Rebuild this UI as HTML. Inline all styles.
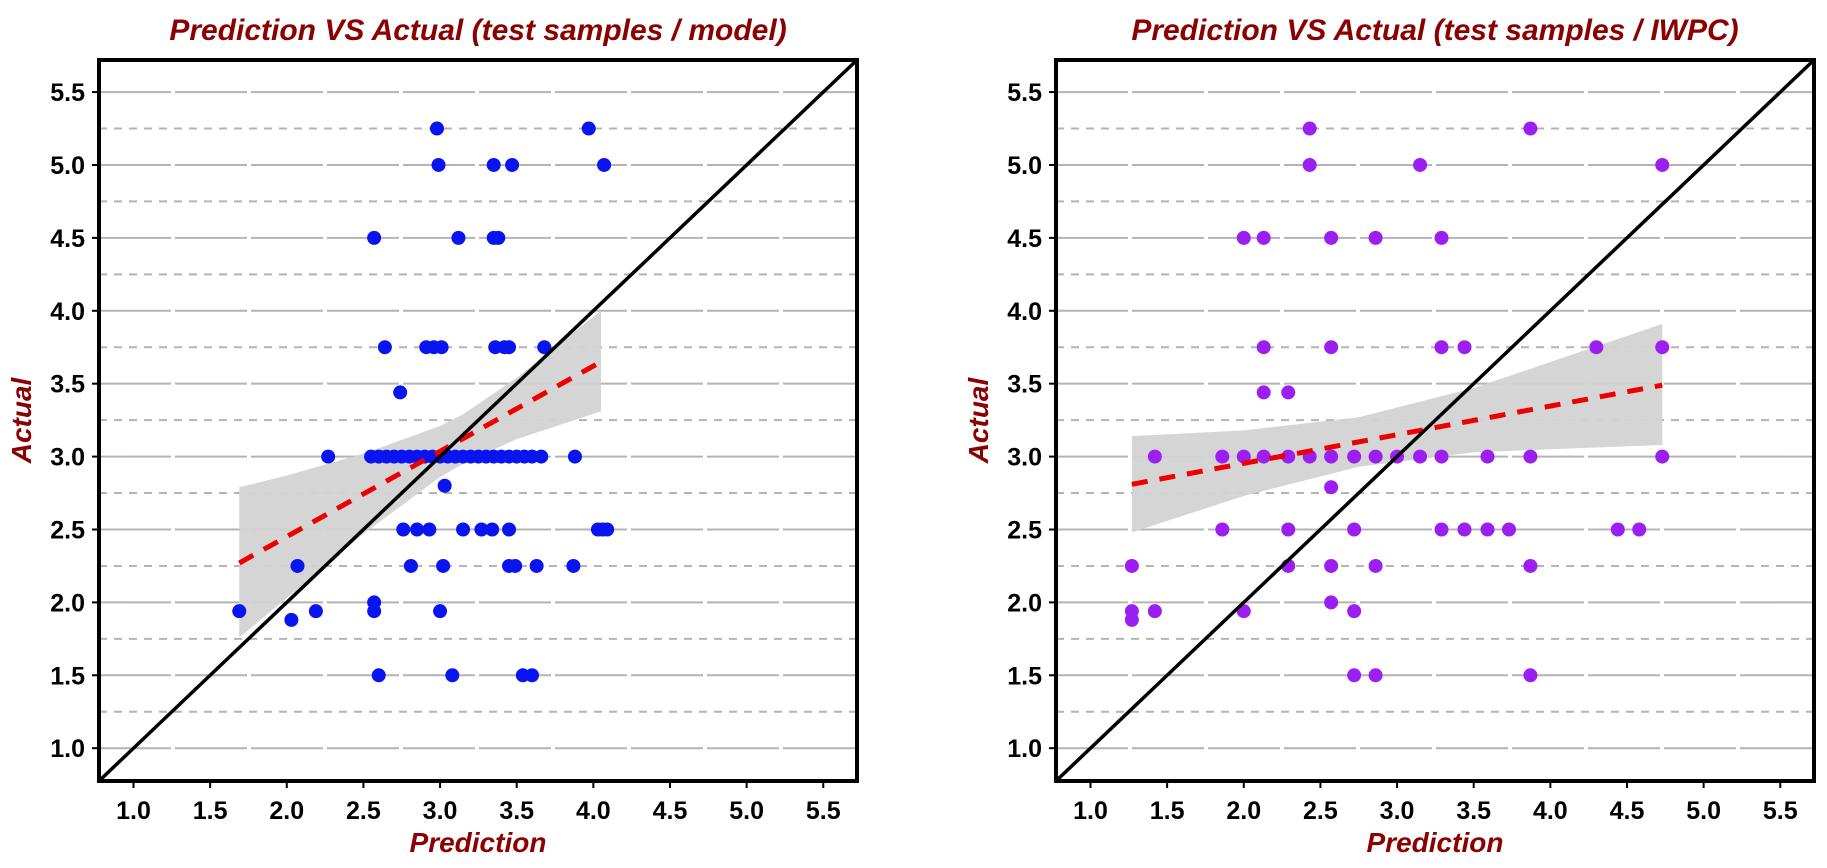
<!DOCTYPE html>
<html><head><meta charset="utf-8">
<style>
html,body{margin:0;padding:0;background:#fff;}
svg{display:block;font-family:"Liberation Sans",sans-serif;}
</style></head>
<body>
<svg id="chart" width="1827" height="868" viewBox="0 0 1827 868" xmlns="http://www.w3.org/2000/svg"></svg>
<script>
// ---- data: left panel (model) ----
const modelX = [2.98,3.97, 2.99,3.35,3.47,4.07, 2.57,3.12,3.35,3.38,
  2.64,2.91,2.96,3.01,3.36,3.42,3.45,3.68, 2.74,
  2.27,2.55,2.6,2.65,2.7,2.75,2.8,2.85,2.9,2.95,3.0,3.05,3.1,3.15,3.2,3.25,3.3,3.35,3.4,3.45,3.5,3.55,3.6,3.66,3.88,
  3.03, 2.76,2.85,2.93,3.15,3.27,3.34,3.45,4.03,4.06,4.09,
  2.07,2.81,3.02,3.45,3.49,3.63,3.87, 2.57,1.69,2.57,3.0,2.19,2.03, 2.6,3.08,3.54,3.6];
const modelY = [5.25,5.25, 5.0,5.0,5.0,5.0, 4.5,4.5,4.5,4.5,
  3.75,3.75,3.75,3.75,3.75,3.75,3.75,3.75, 3.44,
  3.0,3.0,3.0,3.0,3.0,3.0,3.0,3.0,3.0,3.0,3.0,3.0,3.0,3.0,3.0,3.0,3.0,3.0,3.0,3.0,3.0,3.0,3.0,3.0,3.0,
  2.8, 2.5,2.5,2.5,2.5,2.5,2.5,2.5,2.5,2.5,2.5,
  2.25,2.25,2.25,2.25,2.25,2.25,2.25, 2.0,1.94,1.94,1.94,1.94,1.88, 1.5,1.5,1.5,1.5];
const modelFitX = [1.69, 4.05];
const modelFitY = [2.27, 3.65];
const modelCiX = [1.69, 2.0, 2.5, 3.0, 3.15, 3.5, 4.05];
const modelCiLow = [1.76, 2.03, 2.47, 2.86, 2.95, 3.12, 3.31];
const modelCiHigh = [2.79, 2.87, 3.02, 3.21, 3.29, 3.54, 4.0];
// ---- data: right panel (IWPC) ----
const iwpcX = [2.43,3.87, 2.43,3.15,4.73, 2.0,2.13,2.57,2.86,3.29,
  2.13,2.57,3.29,3.44,4.30,4.73, 2.13,2.29,
  1.42,1.86,2.0,2.13,2.29,2.43,2.57,2.72,2.86,3.0,3.15,3.29,3.59,3.87,4.73,
  2.57, 1.86,2.29,2.72,3.29,3.44,3.59,3.73,4.44,4.58,
  1.27,2.29,2.57,2.86,3.87, 2.57, 1.27,1.42,2.0,2.72, 1.27, 2.72,2.86,3.87];
const iwpcY = [5.25,5.25, 5.0,5.0,5.0, 4.5,4.5,4.5,4.5,4.5,
  3.75,3.75,3.75,3.75,3.75,3.75, 3.44,3.44,
  3.0,3.0,3.0,3.0,3.0,3.0,3.0,3.0,3.0,3.0,3.0,3.0,3.0,3.0,3.0,
  2.79, 2.5,2.5,2.5,2.5,2.5,2.5,2.5,2.5,2.5,
  2.25,2.25,2.25,2.25,2.25, 2.0, 1.94,1.94,1.94,1.94, 1.88, 1.5,1.5,1.5];
const iwpcFitX = [1.27, 4.73];
const iwpcFitY = [2.81, 3.49];
const iwpcCiX = [1.27, 2.0, 2.75, 3.5, 4.73];
const iwpcCiLow = [2.48, 2.73, 2.93, 3.03, 3.08];
const iwpcCiHigh = [3.14, 3.18, 3.27, 3.47, 3.91];
// ---- axis ticks ----
const tickValues = [1.0,1.5,2.0,2.5,3.0,3.5,4.0,4.5,5.0,5.5];
const tickLabels = ["1.0","1.5","2.0","2.5","3.0","3.5","4.0","4.5","5.0","5.5"];
const minorValues = [1.25,1.75,2.25,2.75,3.25,3.75,4.25,4.75,5.25];
const DMIN = 0.775, DMAX = 5.72;

const NS = "http://www.w3.org/2000/svg";
const svg = document.getElementById('chart');
function mk(tag, attrs, parent){
  const e = document.createElementNS(NS, tag);
  for (const k in attrs) e.setAttribute(k, attrs[k]);
  (parent||svg).appendChild(e);
  return e;
}

function panel(cfg){
  const L = cfg.left, R = cfg.left + 758, T = 60, B = 781;
  const sx = v => L + (v - DMIN) / (DMAX - DMIN) * (R - L);
  const sy = v => B - (v - DMIN) / (DMAX - DMIN) * (B - T);
  const g = mk('g', {});
  
  

  const t = mk('text', {x:(L+R)/2, y:40, 'text-anchor':'middle', 'font-size':'30', 'font-weight':'bold', 'font-style':'italic', fill:'#8b0000'}, g);
  t.textContent = cfg.title;
  
  

  const grid = mk('g', {}, g);
  
  
  minorValues.forEach(v => {
    mk('line', {x1:L, x2:R, y1:sy(v), y2:sy(v), stroke:'#b4b4b4', 'stroke-width':2, 'stroke-dasharray':'8 7'}, grid);
  });
  tickValues.forEach(v => {
    mk('line', {x1:L, x2:R, y1:sy(v), y2:sy(v), stroke:'#b4b4b4', 'stroke-width':2, 'stroke-dasharray':'72 4'}, grid);
  });

  let pts = [];
  cfg.ciX.forEach((x,i) => pts.push(sx(x)+','+sy(cfg.ciHigh[i])));
  for (let i = cfg.ciX.length-1; i >= 0; i--) pts.push(sx(cfg.ciX[i])+','+sy(cfg.ciLow[i]));
  const band = mk('polygon', {points: pts.join(' '), fill:'#d3d3d3', opacity:'0.95'}, g);
  
  

  const pg = mk('g', {}, g);
  
  
  cfg.xs.forEach((x,i) => {
    const c = mk('circle', {cx:sx(x), cy:sy(cfg.ys[i]), r:7, fill:cfg.color}, pg);
    
    
  });

  const fit = mk('line', {x1:sx(cfg.fitX[0]), y1:sy(cfg.fitY[0]), x2:sx(cfg.fitX[1]), y2:sy(cfg.fitY[1]), stroke:'#ee0000', 'stroke-width':5, 'stroke-dasharray':'16 12'}, g);
  
  

  const id = mk('line', {x1:sx(DMIN), y1:sy(DMIN), x2:sx(DMAX), y2:sy(DMAX), stroke:'#000', 'stroke-width':3.5}, g);
  
  

  const fr = mk('rect', {x:L, y:T, width:R-L, height:B-T, fill:'none', stroke:'#000', 'stroke-width':4}, g);
  
  

  tickValues.forEach((v,i) => {
    mk('line', {x1:sx(v), x2:sx(v), y1:B, y2:B+7, stroke:'#000', 'stroke-width':2}, g);
    mk('line', {x1:L-7, x2:L, y1:sy(v), y2:sy(v), stroke:'#000', 'stroke-width':2}, g);
    const xl = mk('text', {x:sx(v), y:B+38, 'text-anchor':'middle', 'font-size':'25', 'font-weight':'bold', fill:'#000'}, g);
    xl.textContent = tickLabels[i];
    
    
    const yl = mk('text', {x:L-14, y:sy(v)+9, 'text-anchor':'end', 'font-size':'25', 'font-weight':'bold', fill:'#000'}, g);
    yl.textContent = tickLabels[i];
    
    
  });

  const xt = mk('text', {x:(L+R)/2, y:852, 'text-anchor':'middle', 'font-size':'28', 'font-weight':'bold', 'font-style':'italic', fill:'#8b0000'}, g);
  xt.textContent = 'Prediction';
  
  
  const ax = L - 68, ay = (T+B)/2;
  const yt = mk('text', {x:ax, y:ay, 'text-anchor':'middle', 'font-size':'28', 'font-weight':'bold', 'font-style':'italic', fill:'#8b0000', transform:'rotate(-90 '+ax+' '+ay+')'}, g);
  yt.textContent = 'Actual';
  
  
}

panel({name:'model', left:99, title:'Prediction VS Actual (test samples / model)', color:'#0a14f0',
  xs:modelX, ys:modelY, fitX:modelFitX, fitY:modelFitY, ciX:modelCiX, ciLow:modelCiLow, ciHigh:modelCiHigh});
panel({name:'iwpc', left:1056, title:'Prediction VS Actual (test samples / IWPC)', color:'#9b1ff0',
  xs:iwpcX, ys:iwpcY, fitX:iwpcFitX, fitY:iwpcFitY, ciX:iwpcCiX, ciLow:iwpcCiLow, ciHigh:iwpcCiHigh});
</script>
</body></html>
